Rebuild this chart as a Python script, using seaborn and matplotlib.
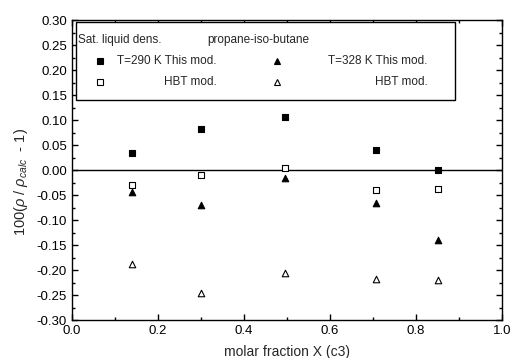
import matplotlib
matplotlib.use("Agg")
import matplotlib.pyplot as plt
from matplotlib.patches import Rectangle
from matplotlib.ticker import MultipleLocator, FormatStrFormatter
import seaborn as sns
import pandas as pd

# Mole fraction of propane in the propane / iso-butane mixture
x_c3 = [0.14, 0.30, 0.495, 0.707, 0.851]

# Relative deviation of saturated liquid density, 100(rho/rho_calc - 1)
dev_290_this = [0.034, 0.082, 0.106, 0.040, 0.000]
dev_290_hbt = [-0.030, -0.010, 0.004, -0.040, -0.037]
dev_328_this = [-0.043, -0.070, -0.015, -0.065, -0.140]
dev_328_hbt = [-0.188, -0.246, -0.206, -0.217, -0.219]

series_labels = ["T=290 K This mod.", "HBT mod.", "T=328 K This mod.", "HBT mod."]
series_values = [dev_290_this, dev_290_hbt, dev_328_this, dev_328_hbt]
series_markers = ["s", "s", "^", "^"]
series_filled = [True, False, True, False]

legend_title_left = "Sat. liquid dens."
legend_title_right = "propane-iso-butane"

sns.set_style("ticks")
plt.rcParams["font.family"] = ["Liberation Sans", "DejaVu Sans"]
plt.rcParams["mathtext.fontset"] = "custom"
plt.rcParams["mathtext.rm"] = "Liberation Sans"
plt.rcParams["mathtext.it"] = "Liberation Sans:italic"

fig = plt.figure(figsize=(5.14, 3.58), dpi=100)
ax = fig.add_axes([0.140, 0.106, 0.837, 0.838])

for vals, mk, filled in zip(series_values, series_markers, series_filled):
    df = pd.DataFrame({"x": x_c3, "y": vals})
    fc = "black" if filled else "white"
    sns.scatterplot(data=df, x="x", y="y", ax=ax, marker=mk, s=22,
                    facecolor=fc, edgecolor="black", linewidth=0.8, zorder=3)

ax.axhline(0.0, color="black", linewidth=1.0, zorder=2)

ax.set_xlim(0.0, 1.0)
ax.set_ylim(-0.30, 0.30)
ax.xaxis.set_major_locator(MultipleLocator(0.2))
ax.xaxis.set_minor_locator(MultipleLocator(0.1))
ax.yaxis.set_major_locator(MultipleLocator(0.05))
ax.yaxis.set_minor_locator(MultipleLocator(0.025))
ax.xaxis.set_major_formatter(FormatStrFormatter("%.1f"))
ax.yaxis.set_major_formatter(FormatStrFormatter("%.2f"))
ax.tick_params(which="both", direction="in", top=True, right=True,
               labelsize=9.5, width=1.0, colors="black")
ax.tick_params(which="major", length=4)
ax.tick_params(which="minor", length=2)
for sp in ax.spines.values():
    sp.set_linewidth(1.0)
    sp.set_color("black")

ax.set_xlabel("molar fraction X (c3)", fontsize=10, labelpad=6)
ax.set_ylabel(r"100($\rho$ / $\rho_{calc}$  - 1)", fontsize=10.5)
ax.yaxis.set_label_coords(-0.097, 0.46)

# Boxed key: title line, then two columns (290 K / 328 K) of
# "This mod." (filled) and "HBT mod." (open) entries
T = ax.transAxes
ax.add_patch(Rectangle((0.0093, 0.733), 0.882, 0.26, transform=T,
                       facecolor="white", edgecolor="black", linewidth=1.0,
                       zorder=5))
fs = 8.5
ax.text(0.014, 0.933, legend_title_left, transform=T, fontsize=fs,
        va="center", ha="left", zorder=6)
ax.text(0.314, 0.933, legend_title_right, transform=T, fontsize=fs,
        va="center", ha="left", zorder=6)

row_y = [0.863, 0.793, 0.863, 0.793]
mark_x = [0.065, 0.065, 0.477, 0.477]
text_right = [0.337, 0.337, 0.826, 0.826]
for lab, mk, filled, yy, mx, tx in zip(series_labels, series_markers,
                                       series_filled, row_y, mark_x, text_right):
    fc = "black" if filled else "white"
    ax.plot([mx], [yy], transform=T, linestyle="none", marker=mk,
            markersize=4.5, markerfacecolor=fc, markeredgecolor="black",
            markeredgewidth=0.8, zorder=6, clip_on=False)
    ax.text(tx, yy, lab, transform=T, fontsize=fs, va="center", ha="right",
            zorder=6)

fig.savefig("out.png", dpi=100)
